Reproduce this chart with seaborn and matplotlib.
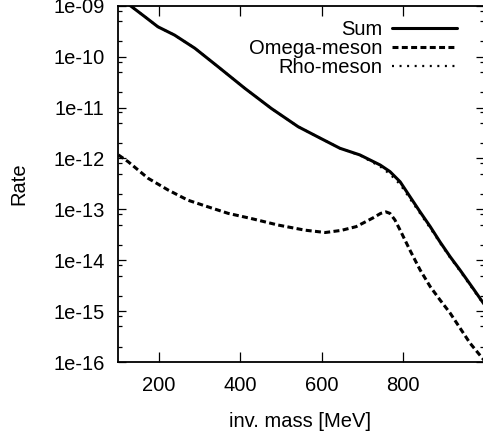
import numpy as np
import pandas as pd
import matplotlib
matplotlib.use("Agg")
import matplotlib.pyplot as plt
import seaborn as sns
from matplotlib.ticker import FixedLocator, NullFormatter

# ---- data ----
series_names = ["Sum", "Omega-meson", "Rho-meson"]

sum_mass = [100, 128, 165, 197, 238, 288, 345, 411, 476, 542, 596, 645, 694,
            744, 768, 793, 817, 842, 867, 891, 916, 940, 972, 1000]
sum_rate = [1.5e-09, 1.02e-09, 6.08e-10, 3.86e-10, 2.65e-10, 1.46e-10, 6.34e-11,
            2.38e-11, 9.6e-12, 4.20e-12, 2.51e-12, 1.58e-12, 1.17e-12, 7.41e-13,
            5.50e-13, 3.47e-13, 1.78e-13, 8.91e-14, 4.57e-14, 2.29e-14, 1.17e-14,
            6.46e-15, 2.82e-15, 1.35e-15]

rho_mass = sum_mass
rho_rate = [1.5e-09, 1.02e-09, 6.08e-10, 3.86e-10, 2.65e-10, 1.46e-10, 6.34e-11,
            2.38e-11, 9.6e-12, 4.20e-12, 2.51e-12, 1.58e-12, 1.15e-12, 6.92e-13,
            4.90e-13, 3.09e-13, 1.62e-13, 8.32e-14, 4.27e-14, 2.19e-14, 1.12e-14,
            6.17e-15, 2.69e-15, 1.30e-15]

omega_mass = [100, 124, 173, 222, 271, 320, 370, 426, 493, 559, 609, 648, 685,
              726, 745, 758, 768, 780, 793, 817, 842, 867, 891, 916, 965, 1000]
omega_rate = [1.17e-12, 8.61e-13, 4.07e-13, 2.40e-13, 1.51e-13, 1.12e-13, 8.32e-14,
              6.61e-14, 4.90e-14, 3.89e-14, 3.50e-14, 3.85e-14, 4.57e-14, 6.76e-14,
              8.30e-14, 8.90e-14, 8.30e-14, 6.20e-14, 3.89e-14, 1.58e-14, 6.46e-15,
              3.02e-15, 1.66e-15, 9.12e-16, 2.34e-16, 1.07e-16]

x_ticks = [200, 400, 600, 800]
x_tick_labels = ["200", "400", "600", "800"]
y_ticks = [1e-16, 1e-15, 1e-14, 1e-13, 1e-12, 1e-11, 1e-10, 1e-09]
y_tick_labels = ["1e-16", "1e-15", "1e-14", "1e-13", "1e-12", "1e-11", "1e-10", "1e-09"]

df = pd.concat([
    pd.DataFrame({"mass": sum_mass, "rate": sum_rate, "series": "Sum"}),
    pd.DataFrame({"mass": omega_mass, "rate": omega_rate, "series": "Omega-meson"}),
    pd.DataFrame({"mass": rho_mass, "rate": rho_rate, "series": "Rho-meson"}),
], ignore_index=True)

# ---- style ----
sns.set_style("ticks")
plt.rcParams["font.family"] = ["Liberation Sans", "DejaVu Sans"]
plt.rcParams["text.color"] = "black"
plt.rcParams["axes.labelcolor"] = "black"
plt.rcParams["xtick.color"] = "black"
plt.rcParams["ytick.color"] = "black"
FS = 14.5

fig = plt.figure(figsize=(4.83, 4.41), dpi=100)
ax = fig.add_axes([118.4 / 483, 79 / 441, (484.3 - 118.4) / 483, (362 - 5.7) / 441])

sns.lineplot(data=df, x="mass", y="rate", style="series", style_order=series_names,
             dashes={"Sum": "", "Omega-meson": (1.95, 1.1), "Rho-meson": (0.9, 2.5)},
             color="black", linewidth=2.2, legend=False, ax=ax, sort=False,
             estimator=None)

lines = ax.get_lines()[:3]
lines[2].set_linewidth(1.6)

ax.set_yscale("log")
ax.set_xlim(100, 1000)
ax.set_ylim(1e-16, 1e-09)

ax.set_xticks(x_ticks, x_tick_labels)
ax.set_yticks(y_ticks, y_tick_labels)
minor = [m * 10.0 ** e for e in range(-16, -9) for m in (2, 5, 8)]
ax.yaxis.set_minor_locator(FixedLocator(minor))
ax.yaxis.set_minor_formatter(NullFormatter())
ax.xaxis.set_minor_locator(FixedLocator([]))

ax.tick_params(axis="x", which="major", direction="in", length=7, width=0.9,
               top=True, bottom=True, pad=10, labelsize=FS, colors="black")
ax.tick_params(axis="y", which="major", direction="in", length=5.5, width=0.9,
               left=True, right=True, pad=10, labelsize=FS, colors="black")
ax.tick_params(axis="y", which="minor", direction="in", length=3, width=0.9,
               left=True, right=True, colors="black")

for sp in ax.spines.values():
    sp.set_visible(True)
    sp.set_linewidth(1.3)
    sp.set_color("black")

ax.set_xlabel("inv. mass [MeV]", fontsize=FS, color="black")
ax.set_ylabel("Rate", fontsize=FS, color="black")
ax.xaxis.set_label_coords(0.496, -0.14)
ax.yaxis.set_label_coords(-0.245, 0.5)

leg = ax.legend(lines, series_names, loc="upper right", frameon=False,
                markerfirst=False, fontsize=FS, handlelength=3.25,
                handletextpad=0.45, labelspacing=0.02, borderpad=0,
                borderaxespad=0, bbox_to_anchor=(0.9254, 0.961),
                labelcolor="black")

fig.savefig("out.png", dpi=100)
